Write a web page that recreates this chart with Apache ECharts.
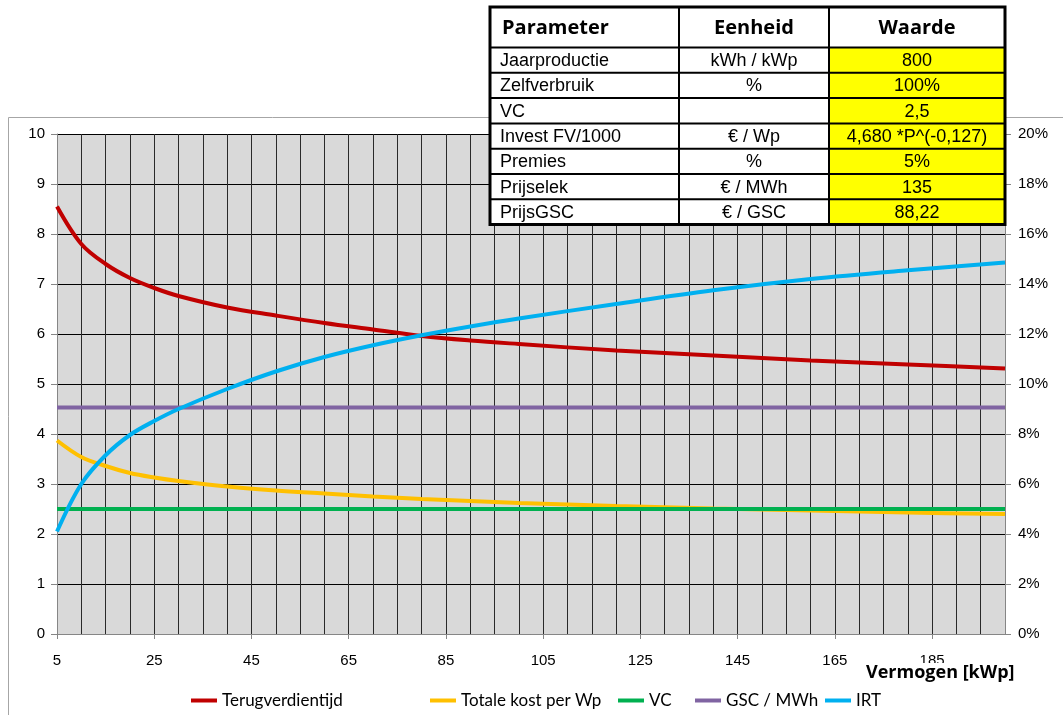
<!DOCTYPE html>
<html>
<head>
<meta charset="utf-8">
<script src="https://cdn.jsdelivr.net/npm/echarts@6/dist/echarts.min.js"></script>
<style>
  html, body { margin: 0; padding: 0; background: #ffffff; }
  #chart { width: 1063px; height: 715px; }
</style>
</head>
<body>
<div id="chart"></div>
<script>
// Installed capacity (kWp) at which the curves are sampled
const kwp = [5, 10, 15, 20, 25, 30, 40, 50, 60, 70, 80, 90, 100, 120, 140, 160, 180, 200];
// Payback time (years)
const terugverdientijd = [8.55, 7.80, 7.40, 7.12, 6.92, 6.76, 6.53, 6.37, 6.22, 6.09, 5.96, 5.87, 5.80, 5.67, 5.57, 5.47, 5.39, 5.31];
// Total cost per Wp (EUR)
const totaleKost = [3.87, 3.54, 3.36, 3.22, 3.13, 3.06, 2.95, 2.87, 2.81, 2.75, 2.70, 2.66, 2.62, 2.56, 2.51, 2.47, 2.43, 2.40];
// Internal rate of return (%)
const irt = [4.1, 6.0, 7.15, 7.96, 8.52, 9.0, 9.8, 10.5, 11.08, 11.55, 11.95, 12.3, 12.62, 13.2, 13.75, 14.2, 14.55, 14.86];
// Constant levels across the whole range
const flatX = [5, 200];
const vc = [2.5, 2.5];
const gscPerMWh = [4.53, 4.53];

// Axis labels on the capacity axis
const xLabelValues = [5, 25, 45, 65, 85, 105, 125, 145, 165, 185];

// Parameter table
const tableHeader = ['Parameter', 'Eenheid', 'Waarde'];
const tableRows = [
  ['Jaarproductie', 'kWh / kWp', '800'],
  ['Zelfverbruik', '%', '100%'],
  ['VC', '', '2,5'],
  ['Invest FV/1000', '€ / Wp', '4,680 *P^(-0,127)'],
  ['Premies', '%', '5%'],
  ['Prijselek', '€ / MWh', '135'],
  ['PrijsGSC', '€ / GSC', '88,22']
];

const seriesNames = ['Terugverdientijd', 'Totale kost per Wp', 'VC', 'GSC / MWh', 'IRT'];
const seriesColors = ['#c00000', '#ffc000', '#00b050', '#8064a2', '#00b0f0'];

function pairs(xs, ys) { return xs.map((x, i) => [x, ys[i]]); }

// Table geometry
const colX = [490, 679, 829, 1005];
const headerTop = 7, headerBottom = 47.5, rowH = 25.3;
const bodyFont = '18px "Liberation Sans", Arial, sans-serif';
const headFont = 'bold 20px "Open Sans", Lato, sans-serif';

function buildTable() {
  const els = [];
  const bottom = headerBottom + rowH * tableRows.length;
  els.push({ type: 'rect', shape: { x: colX[0], y: headerTop, width: colX[3] - colX[0], height: bottom - headerTop },
    style: { fill: '#ffffff' }, z: 100 });
  tableRows.forEach((r, i) => {
    els.push({ type: 'rect', shape: { x: colX[2], y: headerBottom + i * rowH, width: colX[3] - colX[2], height: rowH },
      style: { fill: '#ffff00' }, z: 101 });
  });
  for (let i = 0; i < tableRows.length; i++) {
    const y = headerBottom + i * rowH;
    els.push({ type: 'line', shape: { x1: colX[0], y1: y, x2: colX[3], y2: y }, style: { stroke: '#000', lineWidth: 2 }, z: 102 });
  }
  [colX[1], colX[2]].forEach(x => {
    els.push({ type: 'line', shape: { x1: x, y1: headerTop, x2: x, y2: bottom }, style: { stroke: '#000', lineWidth: 2 }, z: 102 });
  });
  els.push({ type: 'rect', shape: { x: colX[0], y: headerTop, width: colX[3] - colX[0], height: bottom - headerTop },
    style: { fill: 'none', stroke: '#000', lineWidth: 3 }, z: 103 });
  tableHeader.forEach((t, c) => {
    const left = c === 0;
    els.push({ type: 'text', z: 104,
      x: left ? colX[0] + 12 : (colX[c] + colX[c + 1]) / 2, y: (headerTop + headerBottom) / 2 + 1,
      style: { text: t, fill: '#000', font: headFont, align: left ? 'left' : 'center', verticalAlign: 'middle' } });
  });
  tableRows.forEach((r, i) => {
    const cy = headerBottom + i * rowH + rowH / 2 + 1;
    r.forEach((t, c) => {
      if (!t) return;
      const left = c === 0;
      els.push({ type: 'text', z: 104,
        x: left ? colX[0] + 10 : (colX[c] + colX[c + 1]) / 2, y: cy,
        style: { text: t, fill: '#000', font: bodyFont, align: left ? 'left' : 'center', verticalAlign: 'middle' } });
    });
  });
  return els;
}

const legendLefts = [186, 425, 613, 690, 820];
const legends = seriesNames.map((n, i) => ({
  data: [{ name: n, icon: 'rect' }],
  left: legendLefts[i], top: 687,
  itemWidth: 26, itemHeight: 4, itemGap: 0,
  textStyle: { fontFamily: 'Lato, "Open Sans", sans-serif', fontSize: 17, color: '#000' },
  selectedMode: false
}));

const lineSeries = (i, xs, ys, axis, smooth) => ({
  name: seriesNames[i], type: 'line', yAxisIndex: axis, data: pairs(xs, ys),
  smooth: smooth ? 0.35 : false, showSymbol: false,
  lineStyle: { color: seriesColors[i], width: 4 }, itemStyle: { color: seriesColors[i] }
});

const chart = echarts.init(document.getElementById('chart'), null, { renderer: 'canvas' });
chart.setOption({
  animation: false,
  backgroundColor: '#ffffff',
  grid: { left: 57, right: 58, top: 134, bottom: 81, show: true, backgroundColor: '#d9d9d9', borderWidth: 0 },
  legend: legends,
  xAxis: [
    {
      type: 'value', min: 5, max: 200, interval: 5,
      axisLine: { show: true, lineStyle: { color: '#868686', width: 1 } },
      axisTick: { show: true, length: 5, customValues: xLabelValues, lineStyle: { color: '#868686' } },
      axisLabel: { customValues: xLabelValues, margin: 19, color: '#000', fontSize: 15, fontFamily: '"Liberation Sans", Arial, sans-serif' },
      splitLine: { show: false }
    },
    {
      // vertical gridlines every 5 kWp
      type: 'value', min: 5, max: 200, interval: 5, position: 'bottom',
      axisLine: { show: false }, axisTick: { show: false }, axisLabel: { show: false },
      splitLine: { show: true, lineStyle: { color: '#2a2a2a', width: 1 } }
    }
  ],
  yAxis: [
    {
      type: 'value', min: 0, max: 10, interval: 1, position: 'left',
      axisLine: { show: true, lineStyle: { color: '#868686' } },
      axisTick: { show: true, length: 6, lineStyle: { color: '#868686' } },
      axisLabel: { margin: 12, color: '#000', fontSize: 15, fontFamily: '"Liberation Sans", Arial, sans-serif' },
      splitLine: { show: true, lineStyle: { color: '#000', width: 1 } }
    },
    {
      type: 'value', min: 0, max: 20, interval: 2, position: 'right',
      axisLine: { show: true, lineStyle: { color: '#868686' } },
      axisTick: { show: true, length: 6, lineStyle: { color: '#868686' } },
      axisLabel: { margin: 13, color: '#000', fontSize: 15, fontFamily: '"Liberation Sans", Arial, sans-serif', formatter: '{value}%' },
      splitLine: { show: false }
    }
  ],
  series: [
    lineSeries(0, kwp, terugverdientijd, 0, true),
    lineSeries(1, kwp, totaleKost, 0, true),
    lineSeries(2, flatX, vc, 0, false),
    lineSeries(3, flatX, gscPerMWh, 0, false),
    lineSeries(4, kwp, irt, 1, true)
  ],
  graphic: [
    // chart frame
    { type: 'rect', z: -10, silent: true, shape: { x: 8.5, y: 117.5, width: 1200, height: 800 },
      style: { fill: 'none', stroke: '#a6a6a6', lineWidth: 1 } },
    // capacity axis title, boxed so it sits over the last tick label
    { type: 'text', z: 50, x: 864, y: 663,
      style: { text: 'Vermogen [kWp]', fill: '#000', font: 'bold 18px "Open Sans", Lato, sans-serif',
        backgroundColor: '#ffffff', padding: [1, 2, 0, 2] } }
  ].concat(buildTable())
});
</script>
</body>
</html>
